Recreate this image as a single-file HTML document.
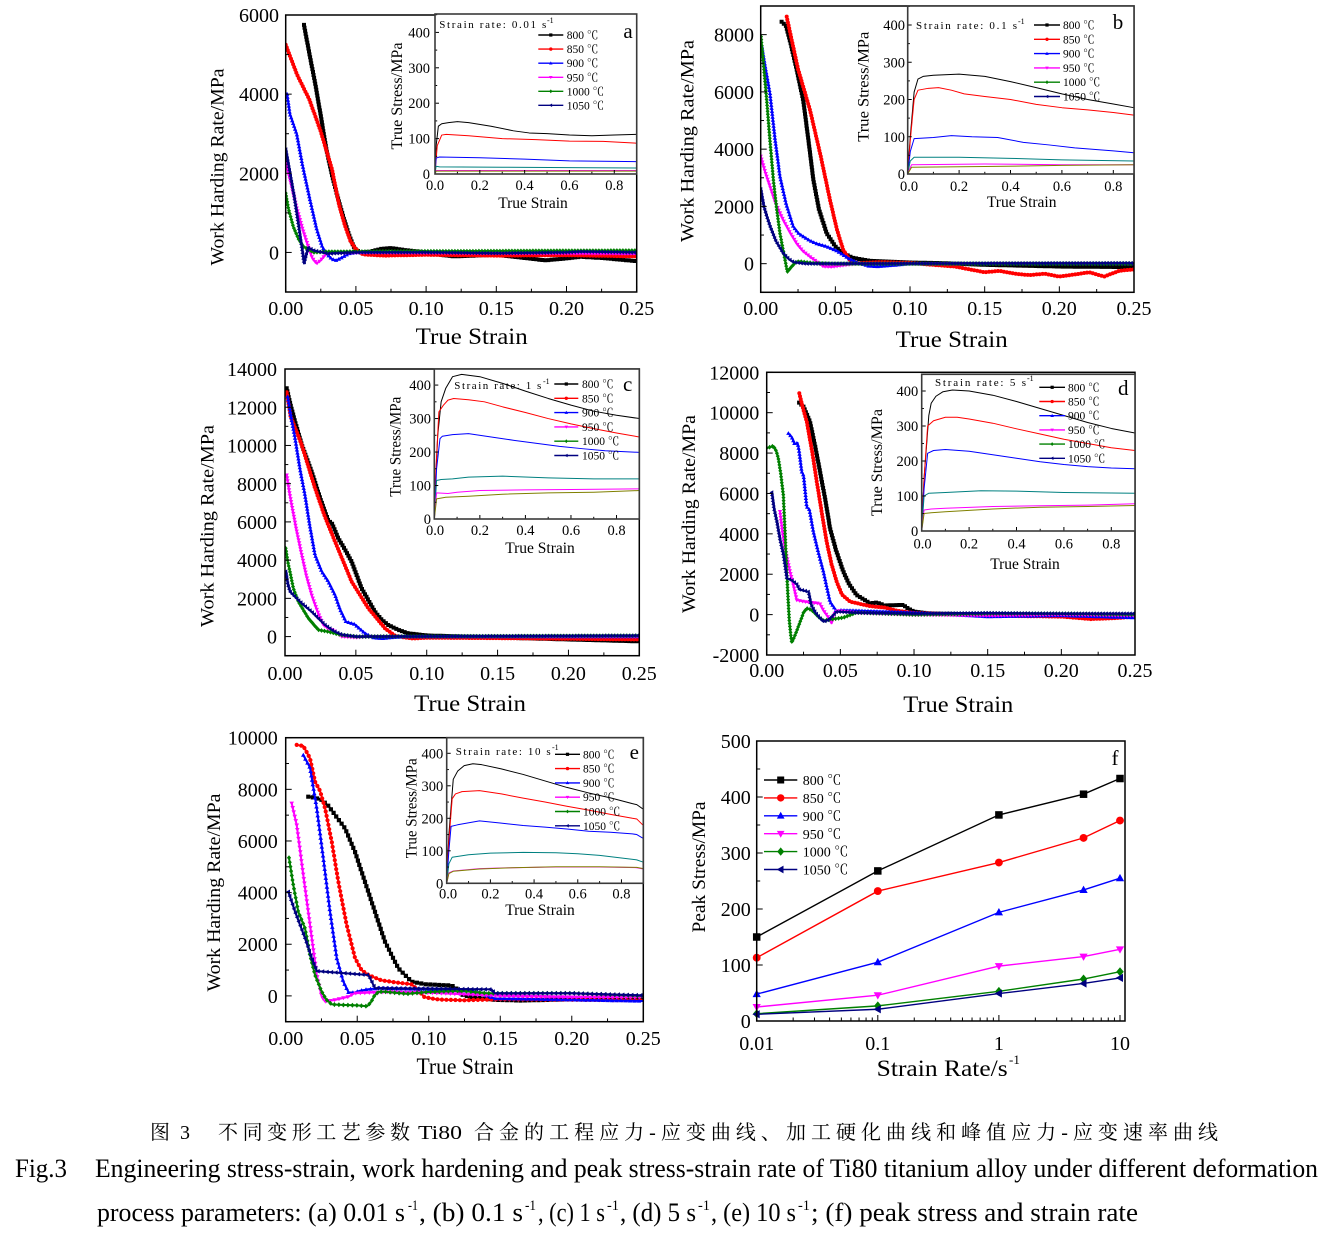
<!DOCTYPE html>
<html><head><meta charset="utf-8">
<style>
html,body{margin:0;padding:0;background:#fff;}
svg{display:block;}
text{font-family:"Liberation Serif","Noto Serif CJK SC",serif;fill:#000;}
.tk{font-size:20px;}
.ax{font-size:23px;}
.ay{font-size:19px;}
.itk{font-size:14.5px;}
.iax{font-size:15.5px;}
.lg{font-size:11.5px;}
.sr{font-size:11px;}
.sup{font-size:8px;}
.pl{font-size:21px;}
.fl{font-size:14px;}
.cap{font-size:26px;}
.capc{font-size:20px;}
.capsup{font-size:15px;}
</style></head><body>
<svg id="s" xmlns="http://www.w3.org/2000/svg" width="1326" height="1235" viewBox="0 0 1326 1235">
<rect x="0" y="0" width="1326" height="1235" fill="#fff"/>
<defs id="defs"></defs>
<g id="gfx"></g>
<g id="txt">
<!-- Panel a -->
<g class="tk" text-anchor="end">
<text x="279" y="22">6000</text><text x="279" y="101">4000</text><text x="279" y="180.3">2000</text><text x="279" y="259.4">0</text>
</g>
<g class="tk" text-anchor="middle">
<text x="285.7" y="315">0.00</text><text x="355.9" y="315">0.05</text><text x="426.1" y="315">0.10</text><text x="496.3" y="315">0.15</text><text x="566.5" y="315">0.20</text><text x="636.7" y="315">0.25</text>
</g>
<text class="ax" x="471.7" y="344" text-anchor="middle" textLength="112" lengthAdjust="spacingAndGlyphs">True Strain</text>
<text class="ay" transform="translate(216.7,167) rotate(-90)" text-anchor="middle" dy="0.35em" textLength="197" lengthAdjust="spacingAndGlyphs">Work Harding Rate/MPa</text>
<g class="itk" text-anchor="end">
<text x="430" y="37.4">400</text><text x="430" y="72.8">300</text><text x="430" y="108.2">200</text><text x="430" y="143.6">100</text><text x="430" y="179">0</text>
</g>
<g class="itk" text-anchor="middle">
<text x="435" y="190">0.0</text><text x="479.8" y="190">0.2</text><text x="524.6" y="190">0.4</text><text x="569.4" y="190">0.6</text><text x="614.3" y="190">0.8</text>
</g>
<text class="iax" x="533" y="208" text-anchor="middle">True Strain</text>
<text class="iax" transform="translate(396.7,96) rotate(-90)" text-anchor="middle" dy="0.35em" textLength="107" lengthAdjust="spacingAndGlyphs">True Stress/MPa</text>
<text class="sr" x="439.3" y="28" textLength="107" lengthAdjust="spacing">Strain rate: 0.01 s</text><text class="sup" x="547" y="23">-1</text>
<g class="lg"><text x="566.7" y="39">800 ℃</text><text x="566.7" y="53.1">850 ℃</text><text x="566.7" y="67.2">900 ℃</text><text x="566.7" y="81.3">950 ℃</text><text x="566.7" y="95.3">1000 ℃</text><text x="566.7" y="109.3">1050 ℃</text></g>
<text class="pl" x="628" y="38" text-anchor="middle">a</text>

<!-- Panel b -->
<g class="tk" text-anchor="end">
<text x="754" y="41.6">8000</text><text x="754" y="98.9">6000</text><text x="754" y="156.1">4000</text><text x="754" y="213.4">2000</text><text x="754" y="270.7">0</text>
</g>
<g class="tk" text-anchor="middle">
<text x="760.7" y="315">0.00</text><text x="835.4" y="315">0.05</text><text x="910" y="315">0.10</text><text x="984.7" y="315">0.15</text><text x="1059.3" y="315">0.20</text><text x="1134" y="315">0.25</text>
</g>
<text class="ax" x="951.7" y="347" text-anchor="middle" textLength="112" lengthAdjust="spacingAndGlyphs">True Strain</text>
<text class="ay" transform="translate(686.7,141) rotate(-90)" text-anchor="middle" dy="0.35em" textLength="202" lengthAdjust="spacingAndGlyphs">Work Harding Rate/MPa</text>
<g class="itk" text-anchor="end">
<text x="905" y="30">400</text><text x="905" y="67.3">300</text><text x="905" y="104.5">200</text><text x="905" y="141.8">100</text><text x="905" y="179">0</text>
</g>
<g class="itk" text-anchor="middle">
<text x="909" y="191">0.0</text><text x="959.1" y="191">0.2</text><text x="1010.5" y="191">0.4</text><text x="1061.9" y="191">0.6</text><text x="1113.3" y="191">0.8</text>
</g>
<text class="iax" x="1021.7" y="207" text-anchor="middle">True Strain</text>
<text class="iax" transform="translate(863.3,86.7) rotate(-90)" text-anchor="middle" dy="0.35em" textLength="110" lengthAdjust="spacingAndGlyphs">True Stress/MPa</text>
<text class="sr" x="916" y="29" textLength="101" lengthAdjust="spacing">Strain rate: 0.1 s</text><text class="sup" x="1018" y="24">-1</text>
<g class="lg"><text x="1063" y="29">800 ℃</text><text x="1063" y="43.3">850 ℃</text><text x="1063" y="57.6">900 ℃</text><text x="1063" y="71.9">950 ℃</text><text x="1063" y="86.2">1000 ℃</text><text x="1063" y="100.5">1050 ℃</text></g>
<text class="pl" x="1118" y="29" text-anchor="middle">b</text>

<!-- Panel c -->
<g class="tk" text-anchor="end">
<text x="277" y="376.1">14000</text><text x="277" y="414.3">12000</text><text x="277" y="452.6">10000</text><text x="277" y="490.8">8000</text><text x="277" y="529">6000</text><text x="277" y="567.2">4000</text><text x="277" y="605.4">2000</text><text x="277" y="643.6">0</text>
</g>
<g class="tk" text-anchor="middle">
<text x="285" y="680">0.00</text><text x="355.9" y="680">0.05</text><text x="426.7" y="680">0.10</text><text x="497.6" y="680">0.15</text><text x="568.4" y="680">0.20</text><text x="639.3" y="680">0.25</text>
</g>
<text class="ax" x="470" y="711" text-anchor="middle" textLength="112" lengthAdjust="spacingAndGlyphs">True Strain</text>
<text class="ay" transform="translate(206.7,526) rotate(-90)" text-anchor="middle" dy="0.35em" textLength="202" lengthAdjust="spacingAndGlyphs">Work Harding Rate/MPa</text>
<g class="itk" text-anchor="end">
<text x="431" y="390">400</text><text x="431" y="423.5">300</text><text x="431" y="457">200</text><text x="431" y="490.5">100</text><text x="431" y="524">0</text>
</g>
<g class="itk" text-anchor="middle">
<text x="435" y="535">0.0</text><text x="479.9" y="535">0.2</text><text x="525.4" y="535">0.4</text><text x="571" y="535">0.6</text><text x="616.5" y="535">0.8</text>
</g>
<text class="iax" x="540" y="553" text-anchor="middle">True Strain</text>
<text class="iax" transform="translate(395,446.7) rotate(-90)" text-anchor="middle" dy="0.35em" textLength="100" lengthAdjust="spacingAndGlyphs">True Stress/MPa</text>
<text class="sr" x="454.3" y="389" textLength="87" lengthAdjust="spacing">Strain rate: 1 s</text><text class="sup" x="543" y="384">-1</text>
<g class="lg"><text x="582" y="388">800 ℃</text><text x="582" y="402.3">850 ℃</text><text x="582" y="416.6">900 ℃</text><text x="582" y="430.9">950 ℃</text><text x="582" y="445.2">1000 ℃</text><text x="582" y="459.5">1050 ℃</text></g>
<text class="pl" x="627.7" y="391" text-anchor="middle">c</text>

<!-- Panel d -->
<g class="tk" text-anchor="end">
<text x="759.3" y="379.3">12000</text><text x="759.3" y="419.7">10000</text><text x="759.3" y="460.1">8000</text><text x="759.3" y="500.5">6000</text><text x="759.3" y="540.8">4000</text><text x="759.3" y="581.2">2000</text><text x="759.3" y="621.6">0</text><text x="759.3" y="662">-2000</text>
</g>
<g class="tk" text-anchor="middle">
<text x="766.7" y="677">0.00</text><text x="840.4" y="677">0.05</text><text x="914" y="677">0.10</text><text x="987.7" y="677">0.15</text><text x="1061.3" y="677">0.20</text><text x="1135" y="677">0.25</text>
</g>
<text class="ax" x="958.3" y="712" text-anchor="middle" textLength="110" lengthAdjust="spacingAndGlyphs">True Strain</text>
<text class="ay" transform="translate(688.3,514) rotate(-90)" text-anchor="middle" dy="0.35em" textLength="198" lengthAdjust="spacingAndGlyphs">Work Harding Rate/MPa</text>
<g class="itk" text-anchor="end">
<text x="918.3" y="396">400</text><text x="918.3" y="431">300</text><text x="918.3" y="466">200</text><text x="918.3" y="501">100</text><text x="918.3" y="536">0</text>
</g>
<g class="itk" text-anchor="middle">
<text x="922.5" y="548.5">0.0</text><text x="969.1" y="548.5">0.2</text><text x="1016.5" y="548.5">0.4</text><text x="1063.9" y="548.5">0.6</text><text x="1111.3" y="548.5">0.8</text>
</g>
<text class="iax" x="1025" y="569" text-anchor="middle">True Strain</text>
<text class="iax" transform="translate(876.7,462.5) rotate(-90)" text-anchor="middle" dy="0.35em" textLength="107" lengthAdjust="spacingAndGlyphs">True Stress/MPa</text>
<text class="sr" x="935" y="386" textLength="91" lengthAdjust="spacing">Strain rate: 5 s</text><text class="sup" x="1027" y="381">-1</text>
<g class="lg"><text x="1068" y="391.3">800 ℃</text><text x="1068" y="405.5">850 ℃</text><text x="1068" y="419.7">900 ℃</text><text x="1068" y="433.9">950 ℃</text><text x="1068" y="448.1">1000 ℃</text><text x="1068" y="462.3">1050 ℃</text></g>
<text class="pl" x="1123.3" y="395" text-anchor="middle">d</text>

<!-- Panel e -->
<g class="tk" text-anchor="end">
<text x="277.7" y="744.7">10000</text><text x="277.7" y="796.3">8000</text><text x="277.7" y="848">6000</text><text x="277.7" y="899.6">4000</text><text x="277.7" y="951.2">2000</text><text x="277.7" y="1002.9">0</text>
</g>
<g class="tk" text-anchor="middle">
<text x="285.7" y="1045">0.00</text><text x="357.2" y="1045">0.05</text><text x="428.7" y="1045">0.10</text><text x="500.3" y="1045">0.15</text><text x="571.8" y="1045">0.20</text><text x="643.3" y="1045">0.25</text>
</g>
<text class="ax" x="465" y="1074" text-anchor="middle" textLength="97" lengthAdjust="spacingAndGlyphs">True Strain</text>
<text class="ay" transform="translate(213.3,892.5) rotate(-90)" text-anchor="middle" dy="0.35em" textLength="198" lengthAdjust="spacingAndGlyphs">Work Harding Rate/MPa</text>
<g class="itk" text-anchor="end">
<text x="443.3" y="758.3">400</text><text x="443.3" y="790.8">300</text><text x="443.3" y="823.3">200</text><text x="443.3" y="855.8">100</text><text x="443.3" y="888.3">0</text>
</g>
<g class="itk" text-anchor="middle">
<text x="448" y="898.5">0.0</text><text x="490.4" y="898.5">0.2</text><text x="534.1" y="898.5">0.4</text><text x="577.7" y="898.5">0.6</text><text x="621.4" y="898.5">0.8</text>
</g>
<text class="iax" x="540" y="915" text-anchor="middle">True Strain</text>
<text class="iax" transform="translate(411,808.3) rotate(-90)" text-anchor="middle" dy="0.35em" textLength="100" lengthAdjust="spacingAndGlyphs">True Stress/MPa</text>
<text class="sr" x="455.7" y="755" textLength="95" lengthAdjust="spacing">Strain rate: 10 s</text><text class="sup" x="552" y="750">-1</text>
<g class="lg"><text x="583" y="758.3">800 ℃</text><text x="583" y="772.6">850 ℃</text><text x="583" y="786.9">900 ℃</text><text x="583" y="801.2">950 ℃</text><text x="583" y="815.5">1000 ℃</text><text x="583" y="829.8">1050 ℃</text></g>
<text class="pl" x="634.3" y="759" text-anchor="middle">e</text>

<!-- Panel f -->
<g class="tk" text-anchor="end">
<text x="750.7" y="748">500</text><text x="750.7" y="804">400</text><text x="750.7" y="860">300</text><text x="750.7" y="916">200</text><text x="750.7" y="972">100</text><text x="750.7" y="1028">0</text>
</g>
<g class="tk" text-anchor="middle">
<text x="756.7" y="1050">0.01</text><text x="877.8" y="1050">0.1</text><text x="998.9" y="1050">1</text><text x="1120" y="1050">10</text>
</g>
<text class="ax" x="876.7" y="1076" textLength="131" lengthAdjust="spacingAndGlyphs">Strain Rate/s</text><text style="font-size:13px" x="1009" y="1064">-1</text>
<text class="ay" transform="translate(698.3,867) rotate(-90)" text-anchor="middle" dy="0.35em" textLength="131" lengthAdjust="spacingAndGlyphs">Peak Stress/MPa</text>
<g class="fl"><text x="802.7" y="785">800 ℃</text><text x="802.7" y="803">850 ℃</text><text x="802.7" y="821">900 ℃</text><text x="802.7" y="839">950 ℃</text><text x="802.7" y="856.5">1000 ℃</text><text x="802.7" y="874.5">1050 ℃</text></g>
<text class="pl" x="1115" y="765" text-anchor="middle">f</text>

<!-- Caption -->
<text class="capc" x="150" y="1139" textLength="40" lengthAdjust="spacing">图 3</text>
<text class="capc" x="218" y="1139" textLength="192" lengthAdjust="spacing">不同变形工艺参数</text>
<text class="capc" x="418" y="1139" textLength="44" lengthAdjust="spacingAndGlyphs">Ti80</text>
<text class="capc" x="474" y="1139" textLength="744" lengthAdjust="spacing">合金的工程应力-应变曲线、加工硬化曲线和峰值应力-应变速率曲线</text>
<text class="cap" x="15" y="1177" textLength="52" lengthAdjust="spacingAndGlyphs">Fig.3</text>
<text class="cap" x="95" y="1177" textLength="1223" lengthAdjust="spacingAndGlyphs">Engineering stress-strain, work hardening and peak stress-strain rate of Ti80 titanium alloy under different deformation</text>
<text class="cap" x="97" y="1221" textLength="308" lengthAdjust="spacingAndGlyphs">process parameters: (a) 0.01 s</text>
<text class="capsup" x="408" y="1210" textLength="10" lengthAdjust="spacingAndGlyphs">-1</text>
<text class="cap" x="419" y="1221" textLength="104" lengthAdjust="spacingAndGlyphs">, (b) 0.1 s</text>
<text class="capsup" x="525" y="1210" textLength="11" lengthAdjust="spacingAndGlyphs">-1</text>
<text class="cap" x="538" y="1221" textLength="67" lengthAdjust="spacingAndGlyphs">, (c) 1 s</text>
<text class="capsup" x="607" y="1210" textLength="12" lengthAdjust="spacingAndGlyphs">-1</text>
<text class="cap" x="620" y="1221" textLength="76" lengthAdjust="spacingAndGlyphs">, (d) 5 s</text>
<text class="capsup" x="698" y="1210" textLength="12" lengthAdjust="spacingAndGlyphs">-1</text>
<text class="cap" x="711" y="1221" textLength="85" lengthAdjust="spacingAndGlyphs">, (e) 10 s</text>
<text class="capsup" x="798" y="1210" textLength="12" lengthAdjust="spacingAndGlyphs">-1</text>
<text class="cap" x="811" y="1221" textLength="327" lengthAdjust="spacingAndGlyphs">; (f) peak stress and strain rate</text>
</g>
</svg>
<script>
(function(){
const NS='http://www.w3.org/2000/svg';
const gfx=document.getElementById('gfx');
const defs=document.getElementById('defs');
function el(t,a,p){const e=document.createElementNS(NS,t);for(const k in a)e.setAttribute(k,a[k]);(p||gfx).appendChild(e);return e;}
function mk(c){c.X=v=>c.x0+(v-c.xmin)/(c.xmax-c.xmin)*(c.x1-c.x0);c.Y=v=>c.y1-(v-c.ymin)/(c.ymax-c.ymin)*(c.y1-c.y0);return c;}
let cid=0;
function clip(c){const id='cl'+(cid++);const cp=el('clipPath',{id:id},defs);el('rect',{x:c.x0,y:c.y0,width:c.x1-c.x0,height:c.y1-c.y0},cp);return 'url(#'+id+')';}
function path(c,pts,col,w,g){let d='';pts.forEach((p,i)=>{d+=(i?'L':'M')+c.X(p[0]).toFixed(2)+','+c.Y(p[1]).toFixed(2);});el('path',{d:d,fill:'none',stroke:col,'stroke-width':w,'stroke-linejoin':'round','stroke-linecap':'round'},g);}
function shape(type,x,y,s){
  const h=s/2;const f=v=>v.toFixed(1);
  if(type==0) return `M${f(x-h)},${f(y-h)}h${s}v${s}h${-s}z`;
  if(type==1) return `M${f(x-h)},${f(y)}a${h},${h} 0 1,0 ${s},0a${h},${h} 0 1,0 ${-s},0z`;
  if(type==2) return `M${f(x)},${f(y-h*1.1)}L${f(x+h*1.1)},${f(y+h*0.8)}L${f(x-h*1.1)},${f(y+h*0.8)}z`;
  if(type==3) return `M${f(x)},${f(y+h*1.1)}L${f(x+h*1.1)},${f(y-h*0.8)}L${f(x-h*1.1)},${f(y-h*0.8)}z`;
  if(type==4) return `M${f(x)},${f(y-h*1.2)}L${f(x+h)},${f(y)}L${f(x)},${f(y+h*1.2)}L${f(x-h)},${f(y)}z`;
  return `M${f(x-h*1.1)},${f(y)}L${f(x+h*0.8)},${f(y-h*1.1)}L${f(x+h*0.8)},${f(y+h*1.1)}z`;
}
function markersAlong(c,pts,type,size,step,col,g){
  const P=pts.map(p=>[c.X(p[0]),c.Y(p[1])]);
  let d='';let acc=0;
  for(let i=1;i<P.length;i++){
    const x0=P[i-1][0],y0=P[i-1][1],x1=P[i][0],y1=P[i][1];
    const len=Math.hypot(x1-x0,y1-y0);
    while(acc<=len){const t=len?acc/len:0;d+=shape(type,x0+(x1-x0)*t,y0+(y1-y0)*t,size);acc+=step;}
    acc-=len;
  }
  el('path',{d:d,fill:col},g);
}
function ticks(c,xs,xm,ys,ym,len,g){
  let n=Math.floor((c.xmax-c.xmin)/xm+1e-6);
  for(let i=0;i<=n;i++){const v=c.xmin+i*xm;if(v>c.xmax+1e-9)continue;const maj=Math.abs(v/xs-Math.round(v/xs))<1e-6;const x=c.X(v);el('line',{x1:x,y1:c.y1,x2:x,y2:c.y1-(maj?len:len*0.55),stroke:'#000','stroke-width':1},g);}
  n=Math.floor((c.ymax-c.ymin)/ym+1e-6);
  for(let i=0;i<=n;i++){const v=c.ymin+i*ym;if(v>c.ymax+1e-9)continue;const maj=Math.abs(v/ys-Math.round(v/ys))<1e-6;const y=c.Y(v);el('line',{x1:c.x0,y1:y,x2:c.x0+(maj?len:len*0.55),y2:y,stroke:'#000','stroke-width':1},g);}
}
function marker(type,x,y,s,col,g){
  const h=s/2;
  if(type==0) el('rect',{x:x-h,y:y-h,width:s,height:s,fill:col},g);
  else if(type==1) el('circle',{cx:x,cy:y,r:h*1.05,fill:col},g);
  else if(type==2) el('polygon',{points:`${x},${y-h*1.15} ${x+h*1.1},${y+h*0.8} ${x-h*1.1},${y+h*0.8}`,fill:col},g);
  else if(type==3) el('polygon',{points:`${x},${y+h*1.15} ${x+h*1.1},${y-h*0.8} ${x-h*1.1},${y-h*0.8}`,fill:col},g);
  else if(type==4) el('polygon',{points:`${x},${y-h*1.2} ${x+h*1.0},${y} ${x},${y+h*1.2} ${x-h*1.0},${y}`,fill:col},g);
  else el('polygon',{points:`${x-h*1.15},${y} ${x+h*0.8},${y-h*1.1} ${x+h*0.8},${y+h*1.1}`,fill:col},g);
}
const MC=['#000000','#ff0000','#0000ff','#ff00ff','#008000','#000080'];
const IC=['#000000','#ff0000','#0000ff','#008080','#ff00ff','#808000'];

function panel(m,ins){
  const c=mk(m);
  const g=el('g',{});
  const gc=el('g',{'clip-path':clip(c)},g);
  m.curves.forEach((pts,k)=>{path(c,pts,MC[k],2,gc);markersAlong(c,pts,k,m.ms||4,m.step||3,MC[k],gc);});
  ticks(c,m.xs,m.xm,m.ys,m.ym,6,g);
  el('rect',{x:c.x0,y:c.y0,width:c.x1-c.x0,height:c.y1-c.y0,fill:'none',stroke:'#000','stroke-width':1.5},g);
  const i=mk(ins);
  el('rect',{x:i.x0,y:i.y0,width:i.x1-i.x0,height:i.y1-i.y0,fill:'#fff'},g);
  const gi=el('g',{'clip-path':clip(i)},g);
  ins.curves.forEach((pts,k)=>path(i,pts,IC[k],1,gi));
  ticks(i,0.2,0.1,100,50,4,g);
  el('rect',{x:i.x0,y:i.y0,width:i.x1-i.x0,height:i.y1-i.y0,fill:'none',stroke:'#3a3a3a','stroke-width':1.6},g);
  ins.leg.forEach((y,k)=>{el('line',{x1:ins.lx0,x2:ins.lx1,y1:y,y2:y,stroke:MC[k],'stroke-width':1.4},g);marker(k,(ins.lx0+ins.lx1)/2,y,3.2,MC[k],g);});
}

// Panel a
panel({x0:285.7,x1:636.7,y0:15,y1:292,xmin:0,xmax:0.25,ymin:-1000,ymax:6000,xs:0.05,xm:0.025,ys:2000,ym:1000,
curves:[
[[0.013,5750],[0.017,5000],[0.021,4270],[0.025,3450],[0.029,2600],[0.033,1950],[0.037,1400],[0.041,900],[0.045,450],[0.049,100],[0.053,0],[0.06,20],[0.068,90],[0.075,110],[0.085,60],[0.1,0],[0.11,-60],[0.12,-100],[0.135,-80],[0.15,-60],[0.165,-120],[0.185,-200],[0.2,-150],[0.21,-110],[0.225,-140],[0.25,-220]],
[[0,5250],[0.008,4500],[0.017,3850],[0.025,3050],[0.033,2100],[0.038,1200],[0.042,700],[0.046,300],[0.05,80],[0.055,-50],[0.07,-80],[0.1,-60],[0.15,-80],[0.2,-70],[0.25,-100]],
[[0.001,4000],[0.003,3500],[0.0078,3000],[0.012,2200],[0.0173,1330],[0.022,600],[0.026,150],[0.029,-30],[0.033,-170],[0.036,-200],[0.04,-130],[0.045,-30],[0.05,0],[0.1,10],[0.15,-10],[0.2,0],[0.25,-20]],
[[0,2300],[0.004,1700],[0.008,1100],[0.012,600],[0.016,150],[0.019,-150],[0.022,-280],[0.025,-200],[0.029,-30],[0.035,0],[0.1,-10],[0.25,-30]],
[[0,1500],[0.002,1100],[0.0054,650],[0.009,350],[0.0125,150],[0.016,80],[0.02,0],[0.03,20],[0.1,30],[0.25,50]],
[[0,2600],[0.003,2000],[0.006,1400],[0.009,700],[0.0115,100],[0.013,-280],[0.0145,-50],[0.016,120],[0.02,50],[0.03,-30],[0.05,0],[0.1,0],[0.15,-20],[0.2,0],[0.21,20],[0.25,0]]
]},
{x0:435,x1:636.7,y0:14,y1:174,xmin:0,xmax:0.9,ymin:0,ymax:452,lx0:538.3,lx1:563.3,leg:[35,49.1,63.2,77.3,91.3,105.3],
curves:[
[[0,0],[0.005,80],[0.015,135],[0.03,142],[0.06,145],[0.1,148],[0.15,145],[0.25,135],[0.35,122],[0.42,116],[0.5,114],[0.6,110],[0.7,108],[0.8,110],[0.9,112]],
[[0,0],[0.01,80],[0.03,110],[0.05,112],[0.15,108],[0.3,100],[0.45,97],[0.6,93],[0.75,92],[0.9,87]],
[[0,0],[0.005,45],[0.02,48],[0.2,46],[0.4,42],[0.6,37],[0.9,35]],
[[0,0],[0.005,22],[0.02,20],[0.3,19],[0.6,18],[0.9,17]],
[[0,0],[0.005,10],[0.9,10]],
[[0,0],[0.005,8],[0.9,8]]
]});

// Panel b
panel({x0:760.7,x1:1134,y0:6,y1:292.3,xmin:0,xmax:0.25,ymin:-1000,ymax:9000,xs:0.05,xm:0.025,ys:2000,ym:1000,
curves:[
[[0.014,8450],[0.017,8300],[0.02,7700],[0.024,6800],[0.0285,5700],[0.032,4300],[0.0352,2950],[0.039,1900],[0.0442,1060],[0.05,600],[0.0553,360],[0.062,200],[0.073,100],[0.1,40],[0.12,20],[0.15,-40],[0.2,-100],[0.25,-120]],
[[0.0174,8630],[0.02,8000],[0.025,6800],[0.033,5370],[0.04,3800],[0.0464,2230],[0.051,1200],[0.0553,480],[0.06,100],[0.065,20],[0.08,50],[0.1,30],[0.11,-20],[0.12,-60],[0.13,-100],[0.14,-200],[0.15,-300],[0.16,-250],[0.17,-350],[0.18,-400],[0.19,-350],[0.2,-450],[0.21,-380],[0.22,-300],[0.23,-450],[0.24,-250],[0.25,-200]],
[[0.0007,7600],[0.003,6900],[0.0062,5950],[0.0095,4400],[0.0129,3050],[0.017,2100],[0.0218,1300],[0.0255,1050],[0.0285,950],[0.033,800],[0.0375,700],[0.044,600],[0.051,450],[0.059,180],[0.065,30],[0.072,-80],[0.078,-100],[0.09,-50],[0.1,0],[0.25,0]],
[[0,3750],[0.003,3200],[0.0062,2700],[0.01,2100],[0.0151,1520],[0.02,1050],[0.024,710],[0.028,450],[0.033,240],[0.038,50],[0.042,-100],[0.048,-110],[0.055,-60],[0.065,0],[0.25,0]],
[[0.0002,7930],[0.002,6900],[0.004,5720],[0.0062,4300],[0.0085,2920],[0.0105,2000],[0.0129,1060],[0.0155,350],[0.0178,-280],[0.02,-150],[0.0233,50],[0.026,80],[0.035,20],[0.05,0],[0.25,0]],
[[0,2600],[0.002,2000],[0.004,1650],[0.0062,1300],[0.01,800],[0.015,360],[0.019,150],[0.022,50],[0.03,0],[0.25,20]]
]},
{x0:907.7,x1:1134,y0:6,y1:174,xmin:0,xmax:0.8805,ymin:0,ymax:451,lx0:1034,lx1:1060,leg:[25,39.3,53.6,67.9,82.2,96.5],
curves:[
[[0,0],[0.01,100],[0.025,220],[0.04,255],[0.06,262],[0.1,265],[0.2,268],[0.3,262],[0.4,248],[0.5,232],[0.6,215],[0.7,200],[0.8,188],[0.88,178]],
[[0,0],[0.01,90],[0.025,200],[0.04,225],[0.08,230],[0.12,232],[0.17,225],[0.22,215],[0.3,208],[0.4,200],[0.5,187],[0.6,178],[0.7,172],[0.8,165],[0.88,158]],
[[0,0],[0.01,60],[0.025,95],[0.1,98],[0.17,103],[0.25,100],[0.35,98],[0.45,85],[0.55,78],[0.65,70],[0.8,62],[0.88,57]],
[[0,0],[0.01,35],[0.025,45],[0.2,45],[0.4,42],[0.6,38],[0.88,35]],
[[0,0],[0.015,25],[0.3,27],[0.6,25],[0.88,25]],
[[0,0],[0.015,18],[0.3,20],[0.6,23],[0.88,25]]
]});

// Panel c
panel({x0:285,x1:639.3,y0:369,y1:655.7,xmin:0,xmax:0.25,ymin:-1000,ymax:14000,xs:0.05,xm:0.025,ys:2000,ym:1000,
curves:[
[[0.0012,12990],[0.004,12100],[0.0071,11250],[0.012,10000],[0.0188,8630],[0.025,7200],[0.0306,6050],[0.033,5950],[0.0376,5140],[0.042,4600],[0.047,3920],[0.054,2530],[0.0635,1300],[0.068,900],[0.0729,600],[0.08,350],[0.087,170],[0.1,60],[0.15,-50],[0.2,-150],[0.25,-250]],
[[0.0012,12780],[0.004,11500],[0.0118,10030],[0.0212,7760],[0.028,6300],[0.0353,4970],[0.047,2880],[0.0588,1480],[0.0706,430],[0.078,20],[0.09,-100],[0.1,-60],[0.15,-80],[0.25,-150]],
[[0.0019,12550],[0.0045,11400],[0.0071,10380],[0.0105,8800],[0.0141,7410],[0.0175,5800],[0.0212,4270],[0.026,3400],[0.0306,2880],[0.0353,2180],[0.039,1400],[0.043,780],[0.049,650],[0.0565,170],[0.062,-50],[0.068,-100],[0.075,-50],[0.085,0],[0.25,0]],
[[0.0012,8450],[0.003,7600],[0.0047,6890],[0.008,5600],[0.0118,4270],[0.015,3200],[0.0188,2180],[0.023,1300],[0.027,610],[0.031,400],[0.0341,350],[0.037,150],[0.04,0],[0.05,-50],[0.06,0],[0.25,0]],
[[0.0005,4620],[0.002,3900],[0.0035,3400],[0.006,2500],[0.0094,1830],[0.0165,960],[0.0235,350],[0.031,250],[0.04,80],[0.05,0],[0.25,50]],
[[0.0005,3400],[0.002,2700],[0.0035,2350],[0.007,2080],[0.0118,1740],[0.0188,1300],[0.0235,950],[0.0282,610],[0.034,300],[0.04,100],[0.05,0],[0.25,50]]
]},
{x0:434.3,x1:639.3,y0:369,y1:519,xmin:0,xmax:0.9,ymin:0,ymax:448,lx0:554.3,lx1:578.3,leg:[384,398.3,412.6,426.9,441.2,455.5],
curves:[
[[0,0],[0.005,100],[0.015,250],[0.03,350],[0.05,390],[0.08,425],[0.12,432],[0.2,425],[0.3,405],[0.4,382],[0.5,360],[0.6,340],[0.7,322],[0.8,310],[0.9,300]],
[[0,0],[0.005,120],[0.02,320],[0.04,340],[0.06,355],[0.085,360],[0.15,356],[0.22,350],[0.3,335],[0.4,318],[0.5,300],[0.6,284],[0.7,270],[0.8,257],[0.9,245]],
[[0,0],[0.01,150],[0.025,240],[0.035,247],[0.08,252],[0.15,255],[0.25,245],[0.35,235],[0.45,226],[0.55,217],[0.65,210],[0.75,204],[0.9,199]],
[[0,0],[0.01,115],[0.03,118],[0.08,120],[0.15,125],[0.3,128],[0.5,123],[0.7,120],[0.9,120]],
[[0,0],[0.01,78],[0.06,76],[0.1,80],[0.2,85],[0.4,87],[0.6,88],[0.9,90]],
[[0,0],[0.01,60],[0.05,65],[0.15,68],[0.3,74],[0.5,78],[0.7,80],[0.9,85]]
]});

// Panel d
panel({x0:766.7,x1:1135,y0:372.3,y1:655,xmin:0,xmax:0.25,ymin:-2000,ymax:12000,xs:0.05,xm:0.025,ys:2000,ym:1000,
curves:[
[[0.022,10500],[0.025,10300],[0.0294,9550],[0.033,8300],[0.0362,7080],[0.04,5600],[0.043,4270],[0.047,3200],[0.052,2130],[0.056,1500],[0.0611,970],[0.0702,560],[0.075,600],[0.08,450],[0.0928,480],[0.096,300],[0.1,150],[0.11,60],[0.15,0],[0.2,-50],[0.25,-100]],
[[0.0221,10960],[0.024,10400],[0.0272,9550],[0.031,8000],[0.034,6580],[0.0375,5000],[0.0407,3610],[0.044,2500],[0.0475,1630],[0.051,1000],[0.0566,640],[0.0702,420],[0.08,350],[0.088,200],[0.1,80],[0.15,-50],[0.2,-100],[0.22,-220],[0.235,-180],[0.25,-100]],
[[0.0147,8980],[0.017,8800],[0.019,8450],[0.021,8500],[0.022,8100],[0.0238,7080],[0.025,6900],[0.0272,5340],[0.029,5200],[0.0317,4100],[0.035,3100],[0.0385,2130],[0.041,1300],[0.043,640],[0.0475,160],[0.05,220],[0.06,200],[0.1,100],[0.15,-100],[0.2,-50],[0.25,-150]],
[[0.009,5100],[0.0105,4200],[0.0124,3280],[0.0158,2130],[0.018,1500],[0.0204,720],[0.025,650],[0.03,600],[0.036,550],[0.0385,200],[0.0415,-100],[0.0441,-430],[0.0455,0],[0.048,200],[0.06,100],[0.1,0],[0.15,-50],[0.2,0],[0.25,-50]],
[[0,8250],[0.0025,8300],[0.0045,8350],[0.0065,8100],[0.0079,7740],[0.0095,7000],[0.0113,5920],[0.0125,4000],[0.0136,2130],[0.0145,800],[0.0154,-350],[0.0163,-1000],[0.017,-1380],[0.0185,-1150],[0.0204,-800],[0.023,-300],[0.025,100],[0.0272,310],[0.03,250],[0.0317,150],[0.035,-100],[0.0385,-300],[0.042,-250],[0.052,-150],[0.061,100],[0.1,0],[0.15,50],[0.2,50],[0.25,0]],
[[0.0034,6050],[0.005,5200],[0.0068,4600],[0.009,3700],[0.0113,2950],[0.0136,1800],[0.017,1700],[0.0204,1500],[0.022,1250],[0.0283,1130],[0.03,500],[0.033,100],[0.0362,-180],[0.0385,-350],[0.042,-250],[0.0475,150],[0.06,100],[0.1,50],[0.15,80],[0.2,50],[0.25,50]]
]},
{x0:921.7,x1:1135,y0:374.3,y1:531,xmin:0,xmax:0.9,ymin:0,ymax:447.7,lx0:1039.3,lx1:1065,leg:[387.3,401.5,415.7,429.9,444.1,458.3],
curves:[
[[0,0],[0.01,150],[0.03,330],[0.04,365],[0.06,385],[0.09,398],[0.13,403],[0.2,400],[0.3,388],[0.4,370],[0.5,350],[0.6,330],[0.7,310],[0.8,293],[0.9,280]],
[[0,0],[0.01,150],[0.025,300],[0.05,315],[0.1,325],[0.15,325],[0.2,320],[0.3,308],[0.4,292],[0.5,277],[0.6,262],[0.7,250],[0.8,238],[0.9,230]],
[[0,0],[0.01,120],[0.025,222],[0.05,230],[0.1,233],[0.2,228],[0.3,218],[0.4,208],[0.5,198],[0.6,190],[0.7,184],[0.8,180],[0.9,178]],
[[0,0],[0.01,100],[0.03,108],[0.1,110],[0.25,115],[0.4,114],[0.6,110],[0.9,108]],
[[0,0],[0.01,60],[0.04,63],[0.1,65],[0.3,70],[0.5,72],[0.7,74],[0.9,78]],
[[0,0],[0.01,50],[0.04,52],[0.1,55],[0.3,63],[0.5,68],[0.7,70],[0.9,73]]
]});

// Panel e
panel({x0:285.7,x1:643.3,y0:737.7,y1:1021.7,xmin:0,xmax:0.25,ymin:-1000,ymax:10000,xs:0.05,xm:0.025,ys:2000,ym:1000,step:4.5,ms:4.2,
curves:[
[[0.0158,7715],[0.02,7680],[0.0252,7590],[0.03,7350],[0.0345,7010],[0.0415,6490],[0.0484,5585],[0.0554,4420],[0.0624,3260],[0.0694,2100],[0.0787,1070],[0.0881,550],[0.0974,450],[0.116,400],[0.119,300],[0.123,50],[0.13,-50],[0.146,-150],[0.165,-180],[0.2,-130],[0.25,-120]],
[[0.0077,9720],[0.0123,9680],[0.017,9200],[0.0205,8300],[0.024,7940],[0.0275,7270],[0.0322,5970],[0.0368,4420],[0.0426,2750],[0.0485,1460],[0.053,1000],[0.0578,810],[0.067,600],[0.08,500],[0.088,450],[0.093,200],[0.097,-50],[0.105,-130],[0.111,-150],[0.125,-170],[0.15,-130],[0.2,-150],[0.25,-170]],
[[0.0123,9330],[0.017,8840],[0.0217,7270],[0.0263,5330],[0.031,3260],[0.0357,1460],[0.0403,550],[0.044,130],[0.048,130],[0.052,200],[0.057,250],[0.065,300],[0.1,260],[0.13,200],[0.146,-100],[0.2,-150],[0.25,-200]],
[[0.0042,7460],[0.0077,6620],[0.0123,4680],[0.017,2750],[0.0217,810],[0.0252,-30],[0.0275,-220],[0.035,-150],[0.044,-30],[0.048,100],[0.07,150],[0.1,120],[0.15,0],[0.2,-50],[0.25,-50]],
[[0.0023,5350],[0.0053,4300],[0.0088,3260],[0.0135,2620],[0.017,1580],[0.0205,810],[0.0252,160],[0.0285,-150],[0.0322,-330],[0.039,-350],[0.05,-370],[0.057,-400],[0.0595,-250],[0.062,0],[0.0648,160],[0.0694,160],[0.085,80],[0.099,150],[0.123,200],[0.141,100],[0.2,100],[0.25,0]],
[[0.0018,4030],[0.0065,3260],[0.0135,2230],[0.0182,1460],[0.0217,960],[0.0578,810],[0.0624,300],[0.1,280],[0.144,250],[0.146,100],[0.2,100],[0.25,20]]
]},
{x0:446.7,x1:643.3,y0:737.7,y1:883.3,xmin:0,xmax:0.9,ymin:0,ymax:448,lx0:555,lx1:580,leg:[754.3,768.6,782.9,797.2,811.5,825.8],
curves:[
[[0,0],[0.01,150],[0.03,320],[0.05,345],[0.08,362],[0.12,368],[0.16,365],[0.25,352],[0.35,335],[0.45,315],[0.55,295],[0.65,278],[0.75,263],[0.85,245],[0.87,242],[0.9,228]],
[[0,0],[0.01,130],[0.025,260],[0.04,275],[0.07,282],[0.15,285],[0.25,275],[0.35,262],[0.45,250],[0.55,237],[0.65,225],[0.75,212],[0.85,200],[0.87,198],[0.9,178]],
[[0,0],[0.01,100],[0.02,175],[0.05,180],[0.15,192],[0.25,185],[0.35,178],[0.45,173],[0.55,167],[0.65,160],[0.75,157],[0.85,152],[0.87,150],[0.9,138]],
[[0,0],[0.01,60],[0.025,80],[0.1,88],[0.2,93],[0.35,95],[0.5,94],[0.6,91],[0.7,86],[0.8,78],[0.87,72],[0.9,65]],
[[0,0],[0.01,32],[0.03,38],[0.15,45],[0.3,48],[0.5,50],[0.7,50],[0.87,48],[0.9,44]],
[[0,0],[0.01,30],[0.03,37],[0.15,44],[0.3,48],[0.5,51],[0.7,51],[0.87,49],[0.9,45]]
]});

// Panel f
(function(){
  const x0=756.7,x1=1125,y0=741,y1=1021;
  const X=v=>756.7+(Math.log10(v)+2)*121.1;
  const Y=v=>1021-v*0.56;
  const g=el('g',{});
  for(let v=0;v<=500;v+=50){const y=Y(v);const maj=v%100==0;el('line',{x1:x0,y1:y,x2:x0+(maj?6:3.5),y2:y,stroke:'#000','stroke-width':1},g);}
  [0.01,0.1,1,10].forEach(d=>{for(let k=1;k<=9;k++){const v=d*k;const x=X(v);if(x>x1+0.5)break;el('line',{x1:x,y1:y1,x2:x,y2:y1-(k==1?6:3.5),stroke:'#000','stroke-width':1},g);}});
  const xs=[0.01,0.1,1,5,10];
  const data=[[150,268,368,405,433],[113,232,283,327,358],[48,105,194,234,255],[25,46,98,115,128],[13,27,53,75,88],[12,21,49,67,77]];
  data.forEach((row,k)=>{
    let d='';row.forEach((v,i)=>{d+=(i?'L':'M')+X(xs[i]).toFixed(2)+','+Y(v).toFixed(2);});
    el('path',{d:d,fill:'none',stroke:MC[k],'stroke-width':1.4},g);
  });
  data.forEach((row,k)=>{row.forEach((v,i)=>marker(k,X(xs[i]),Y(v),7.5,MC[k],g));});
  el('rect',{x:x0,y:y0,width:x1-x0,height:y1-y0,fill:'none',stroke:'#000','stroke-width':1.5},g);
  const ly=[780,797.9,815.8,833.7,851.6,869.5];
  ly.forEach((y,k)=>{el('line',{x1:764,x2:797.3,y1:y,y2:y,stroke:MC[k],'stroke-width':1.4},g);marker(k,780.7,y,7,MC[k],g);});
})();
})();
</script>
</body></html>
